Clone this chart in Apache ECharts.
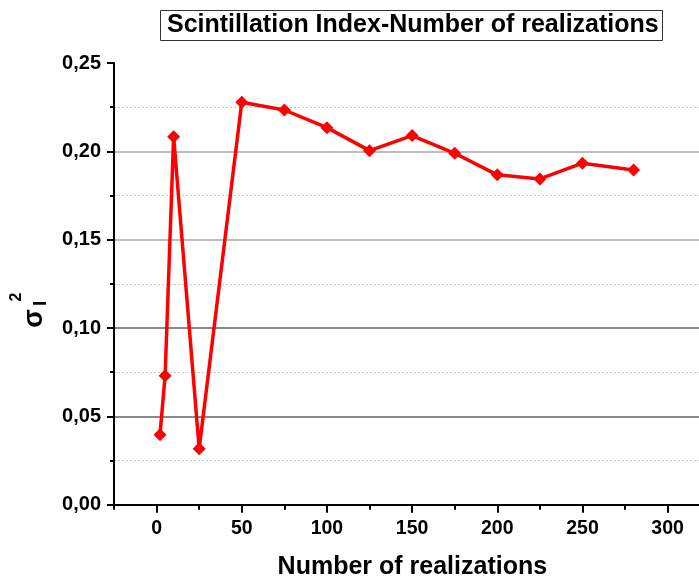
<!DOCTYPE html>
<html>
<head>
<meta charset="utf-8">
<script src="https://cdn.jsdelivr.net/npm/echarts@6/dist/echarts.min.js"></script>
<style>
  html, body { margin: 0; padding: 0; background: #fff; }
  #chart { width: 699px; height: 580px; }
</style>
</head>
<body>
<div id="chart"></div>
<script>
// Scintillation index against the number of realizations
const realizations = [2, 5, 10, 25, 50, 75, 100, 125, 150, 175, 200, 225, 250, 280];
const scintIndex = [0.0396, 0.073, 0.2083, 0.0317, 0.2278, 0.2234, 0.2134, 0.2004, 0.2089, 0.1989, 0.1867, 0.1844, 0.1933, 0.1895];
const xTickValues = [0, 50, 100, 150, 200, 250, 300];
const yTickValues = [0, 0.05, 0.10, 0.15, 0.20, 0.25];

const FONT = "'Liberation Sans', Arial, Helvetica, sans-serif";
const chart = echarts.init(document.getElementById('chart'), null, { renderer: 'canvas' });

const commaFmt = v => v.toFixed(2).replace('.', ',');

chart.setOption({
  animation: false,
  backgroundColor: '#fff',
  title: {
    text: 'Scintillation Index-Number of realizations',
    left: 160,
    top: 10,
    padding: [3, 4, 3, 7],
    borderColor: '#333',
    borderWidth: 1,
    textStyle: { fontFamily: FONT, fontSize: 25, fontWeight: 'bold', color: '#000' }
  },
  grid: { left: 114, top: 63, width: 587.7, height: 441.7, containLabel: false, outerBoundsMode: 'none' },
  xAxis: [
    {
      type: 'value',
      min: -25,
      max: 320,
      interval: 25,
      name: 'Number of realizations',
      nameLocation: 'middle',
      nameGap: 50,
      nameTextStyle: { fontFamily: FONT, fontSize: 25, fontWeight: 'bold', color: '#000', padding: [0, 0, 0, 9] },
      axisLine: { show: true, onZero: false, lineStyle: { color: '#000', width: 2 } },
      axisTick: { show: true, length: 5, lineStyle: { color: '#000', width: 2 } },
      axisLabel: {
        customValues: xTickValues,
        margin: 14,
        fontFamily: FONT, fontSize: 19.5, fontWeight: 'bold', color: '#000'
      },
      splitLine: { show: false }
    },
    {
      type: 'value',
      position: 'bottom',
      min: -25,
      max: 320,
      interval: 25,
      axisLine: { show: false },
      axisTick: { show: true, customValues: xTickValues, length: 8, lineStyle: { color: '#000', width: 2 } },
      axisLabel: { show: false },
      splitLine: { show: false }
    }
  ],
  yAxis: {
    type: 'value',
    min: 0,
    max: 0.25,
    interval: 0.05,
    axisLine: { show: true, onZero: false, lineStyle: { color: '#000', width: 2 } },
    axisTick: { show: true, length: 7, lineStyle: { color: '#000', width: 2 } },
    minorTick: { show: true, splitNumber: 2, length: 4, lineStyle: { color: '#000', width: 2 } },
    axisLabel: {
      formatter: commaFmt,
      margin: 13,
      fontFamily: FONT, fontSize: 20, fontWeight: 'bold', color: '#000'
    },
    splitLine: {
      show: true,
      lineStyle: { color: ['#8a8a8a', '#8a8a8a', '#8a8a8a', '#bdbdbd', '#bdbdbd', 'rgba(0,0,0,0)'], width: 2 }
    },
    minorSplitLine: {
      show: true,
      lineStyle: { color: '#c8c8c8', width: 1, type: [2, 2] }
    }
  },
  graphic: [
    {
      // rotated y-axis title: sigma with subscript I and superscript 2
      type: 'group',
      x: 42,
      y: 325,
      rotation: Math.PI / 2,
      children: [
        { type: 'text', x: 6.5, y: -7, style: { text: 'σ', fontFamily: FONT, fontSize: 27, fontWeight: 'bold', fill: '#000', align: 'center', verticalAlign: 'middle' } },
        { type: 'text', x: 21.7, y: -1, style: { text: 'I', fontFamily: FONT, fontSize: 19, fontWeight: 'bold', fill: '#000', align: 'center', verticalAlign: 'middle' } },
        { type: 'text', x: 28, y: -25, style: { text: '2', fontFamily: FONT, fontSize: 16, fontWeight: 'bold', fill: '#000', align: 'center', verticalAlign: 'middle' } }
      ]
    }
  ],
  series: [
    {
      type: 'line',
      xAxisIndex: 0,
      data: realizations.map((x, i) => [x, scintIndex[i]]),
      symbol: 'diamond',
      symbolSize: 13,
      showAllSymbol: true,
      lineStyle: { color: '#ff0000', width: 3.5 },
      itemStyle: { color: '#ff0000' },
      clip: false
    }
  ]
});
</script>
</body>
</html>
